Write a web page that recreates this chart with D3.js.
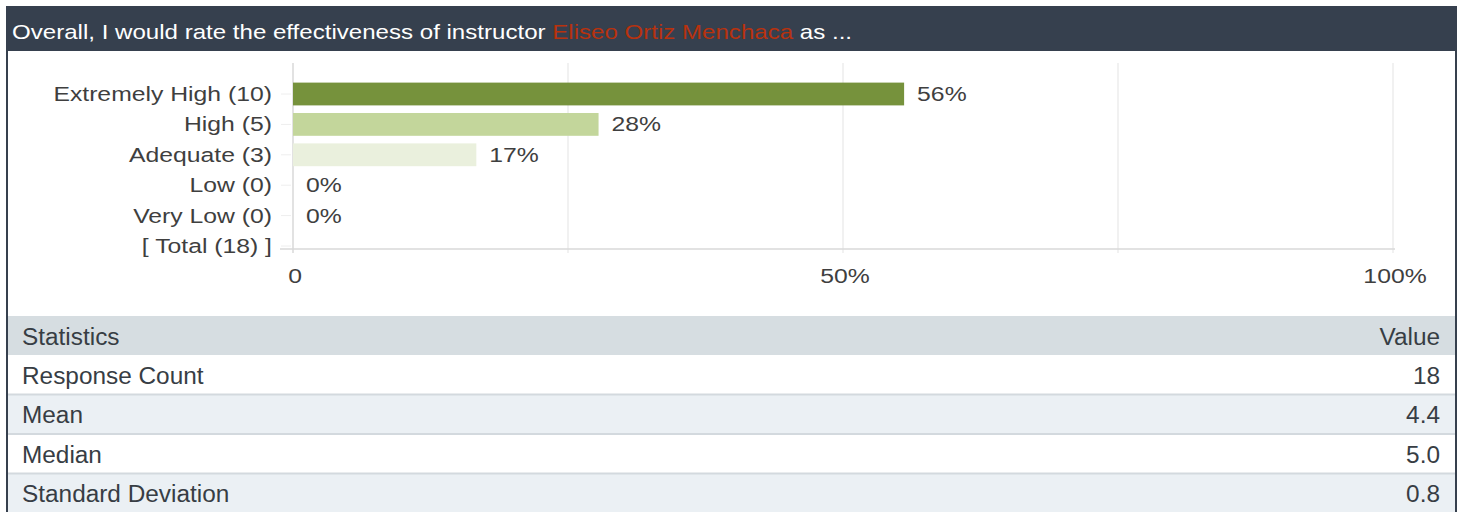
<!DOCTYPE html>
<html>
<head>
<meta charset="utf-8">
<script src="https://cdn.jsdelivr.net/npm/d3@7"></script>
<style>
    html, body { margin: 0; padding: 0; background: #fff; }
    svg { display: block; font-family: "Liberation Sans", Arial, sans-serif; }
</style>
</head>
<body>
<svg id="chart" width="1463" height="512"></svg>
<script>
// question text, split so the instructor name can be coloured
const titleParts = ["Overall, I would rate the effectiveness of instructor ", "Eliseo Ortiz Menchaca", " as ..."];

// answer rows (the last one is the total, no bar)
const categories = ["Extremely High (10)", "High (5)", "Adequate (3)", "Low (0)", "Very Low (0)", "[ Total (18) ]"];
const counts = [10, 5, 3, 0, 0];
const totalCount = 18;
const barColors = ["#76923c", "#c3d69b", "#eaf0dd", "#eaf0dd", "#eaf0dd"];

// x axis
const gridValues = [0, 25, 50, 75, 100];
const tickValues = [0, 50, 100];
const tickLabels = ["0", "50%", "100%"];

// statistics table
const statNames = ["Response Count", "Mean", "Median", "Standard Deviation"];
const statValues = ["18", "4.4", "5.0", "0.8"];

const svg = d3.select("#chart");

// the original picture is a bit wider than tall, so text gets a small x stretch
function stretch(px, py, sx) {
    return "translate(" + px + "," + py + ") scale(" + sx + ",1)";
}

// ---- header bar ----
svg.append("rect")
    .attr("x", 6).attr("y", 6)
    .attr("width", 1451).attr("height", 45)
    .attr("fill", "#36404e");

let title = svg.append("text")
    .attr("transform", stretch(12, 38.5, 1.205))
    .attr("font-size", 20)
    .attr("fill", "#ffffff");
title.selectAll("tspan")
    .data(titleParts)
    .join("tspan")
    .attr("fill", (d, i) => i === 1 ? "#b8320e" : "#ffffff")
    .text(d => d);

// side borders
svg.append("rect").attr("x", 6).attr("y", 51).attr("width", 2).attr("height", 461).attr("fill", "#36404e");
svg.append("rect").attr("x", 1455).attr("y", 51).attr("width", 2).attr("height", 461).attr("fill", "#36404e");

// ---- bar chart ----
const x = d3.scaleLinear().domain([0, 100]).range([293, 1393]);
const y = d3.scaleBand().domain(categories).range([78.8, 261.2]).paddingInner(0.25).paddingOuter(0.125);

const plotTop = 63;
const baseline = 249;
const labelSx = 1.27;

svg.append("g")
    .selectAll("line")
    .data(gridValues)
    .join("line")
    .attr("x1", d => x(d)).attr("x2", d => x(d))
    .attr("y1", plotTop).attr("y2", baseline + 4)
    .attr("stroke", d => d === 0 ? "#d8d8d8" : "#ececec")
    .attr("stroke-width", 1.5);

svg.append("line")
    .attr("x1", 280).attr("x2", x(100) + 2)
    .attr("y1", baseline).attr("y2", baseline)
    .attr("stroke", "#d8d8d8")
    .attr("stroke-width", 1.5);

// small ticks next to category labels
svg.append("g")
    .selectAll("line")
    .data(categories)
    .join("line")
    .attr("x1", 281).attr("x2", 291)
    .attr("y1", d => y(d) + y.bandwidth() / 2)
    .attr("y2", d => y(d) + y.bandwidth() / 2)
    .attr("stroke", "#eeeeee");

const rows = categories.slice(0, counts.length).map((c, i) => ({
    name: c,
    pct: counts[i] / totalCount * 100,
    color: barColors[i]
}));

svg.append("g")
    .selectAll("rect")
    .data(rows.filter(d => d.pct > 0))
    .join("rect")
    .attr("x", x(0))
    .attr("y", d => y(d.name))
    .attr("width", d => x(d.pct) - x(0))
    .attr("height", y.bandwidth())
    .attr("fill", d => d.color);

svg.append("g")
    .selectAll("text")
    .data(rows)
    .join("text")
    .attr("transform", d => stretch(x(d.pct) + 13, y(d.name) + y.bandwidth() / 2 + 7, labelSx))
    .attr("font-size", 19.5)
    .attr("fill", "#3f3f3f")
    .text(d => Math.round(d.pct) + "%");

svg.append("g")
    .selectAll("text")
    .data(categories)
    .join("text")
    .attr("transform", d => stretch(272, y(d) + y.bandwidth() / 2 + 7, labelSx))
    .attr("text-anchor", "end")
    .attr("font-size", 19.5)
    .attr("fill", "#3f3f3f")
    .text(d => d);

svg.append("g")
    .selectAll("text")
    .data(tickValues)
    .join("text")
    .attr("transform", d => stretch(x(d) + 2, 283, labelSx))
    .attr("text-anchor", "middle")
    .attr("font-size", 19.5)
    .attr("fill", "#3f3f3f")
    .text((d, i) => tickLabels[i]);

// ---- statistics table ----
const tableTop = 316;
const rowH = [39, 39.5, 39.5, 39.5, 39];
const tableRows = [["Statistics", "Value"]].concat(statNames.map((n, i) => [n, statValues[i]]));
const rowFill = ["#d6dde1", "#ffffff", "#ebf0f4", "#ffffff", "#ebf0f4"];

let yPos = tableTop;
const rowPos = rowH.map(h => { const p = yPos; yPos += h; return p; });

const tr = svg.append("g")
    .selectAll("g")
    .data(tableRows)
    .join("g")
    .attr("transform", (d, i) => "translate(0," + rowPos[i] + ")");

tr.append("rect")
    .attr("x", 8).attr("y", 0)
    .attr("width", 1447)
    .attr("height", (d, i) => rowH[i])
    .attr("fill", (d, i) => rowFill[i]);

tr.filter((d, i) => i > 1)
    .append("rect")
    .attr("x", 8).attr("y", -1)
    .attr("width", 1447).attr("height", 2)
    .attr("fill", "#d3d9de");

tr.append("text")
    .attr("transform", (d, i) => stretch(22, rowH[i] / 2 + 9, 1.06))
    .attr("font-size", 23)
    .attr("fill", "#373d44")
    .text(d => d[0]);

tr.append("text")
    .attr("transform", (d, i) => stretch(1440, rowH[i] / 2 + 9, 1.06))
    .attr("text-anchor", "end")
    .attr("font-size", 23)
    .attr("fill", "#373d44")
    .text(d => d[1]);
</script>
</body>
</html>
